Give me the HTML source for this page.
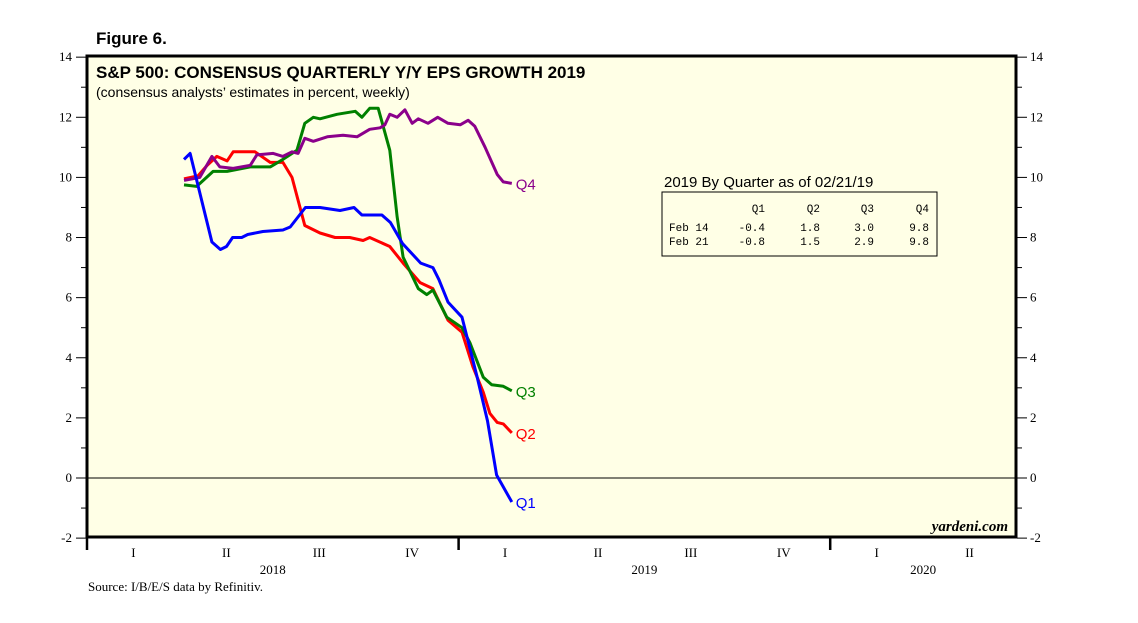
<!DOCTYPE html>
<html><head><meta charset="utf-8"><style>
body{margin:0;background:#fff;}
svg{display:block;}
.s{font-family:"Liberation Serif",serif;}
.a{font-family:"Liberation Sans",sans-serif;}
.m{font-family:"Liberation Mono",monospace;}
</style></head><body>
<svg id="c" width="1138" height="623" viewBox="0 0 1138 623">
<text x="96" y="44" class="a" font-size="17" font-weight="bold">Figure 6.</text>
<rect x="87" y="56" width="929" height="481" fill="#ffffe6" stroke="#000" stroke-width="3"/>
<g id="yaxes"></g>
<g id="xaxis"></g>
<line id="zero" stroke="#000" stroke-width="1"/>
<g id="series"></g>
<text x="96" y="78" class="a" font-size="17" font-weight="bold">S&amp;P 500: CONSENSUS QUARTERLY Y/Y EPS GROWTH 2019</text>
<text x="96" y="97" class="a" font-size="14">(consensus analysts’ estimates in percent, weekly)</text>
<text x="664" y="187" class="a" font-size="15">2019 By Quarter as of 02/21/19</text>
<rect x="662" y="192" width="275" height="64" fill="none" stroke="#000" stroke-width="1"/>
<g class="m" font-size="11" text-anchor="end">
<text x="765" y="212">Q1</text><text x="820" y="212">Q2</text><text x="874" y="212">Q3</text><text x="929" y="212">Q4</text>
<text x="669" y="231" text-anchor="start">Feb 14</text><text x="765" y="231">-0.4</text><text x="820" y="231">1.8</text><text x="874" y="231">3.0</text><text x="929" y="231">9.8</text>
<text x="669" y="245" text-anchor="start">Feb 21</text><text x="765" y="245">-0.8</text><text x="820" y="245">1.5</text><text x="874" y="245">2.9</text><text x="929" y="245">9.8</text>
</g>
<text x="1008" y="531" class="s" font-size="15" font-style="italic" font-weight="bold" text-anchor="end">yardeni.com</text>
<text x="88" y="591" class="s" font-size="13">Source: I/B/E/S data by Refinitiv.</text>
</svg>
<script>
const yTicks=[-2,0,2,4,6,8,10,12,14];
const quarterLabels=["I","II","III","IV","I","II","III","IV","I","II"];
const yearLabels=["2018","2019","2020"];
const yearCenters=[2,6,9];
const q1Weeks=[0,1,4.6,6,7,8,9.5,10.5,13,16.3,17.5,20,22.4,25.7,28,29.3,32.6,34,36,39,41,42,43.5,45.8,48.3,50,51.5,54];
const q1Vals=[10.6,10.8,7.85,7.6,7.7,8.0,8.0,8.1,8.2,8.25,8.35,9.0,9.0,8.9,9.0,8.75,8.75,8.5,7.8,7.15,7.0,6.6,5.85,5.35,3.35,1.9,0.1,-0.8];
const q2Weeks=[0,2.3,3.8,5.4,7.1,8.1,11.7,14.2,16.3,17.8,19.9,22.4,24.9,27.3,29.5,30.6,33.9,36.1,38.9,41,43.5,45.8,47.6,49.3,50.4,51.6,52.6,54];
const q2Vals=[9.95,10.05,10.4,10.7,10.55,10.85,10.85,10.5,10.5,10.0,8.4,8.15,8.0,8.0,7.9,8.0,7.7,7.15,6.5,6.3,5.25,4.85,3.7,2.85,2.15,1.85,1.8,1.5];
const q3Weeks=[0,2.1,4.8,7.1,10.9,14.2,16.3,18.6,19.9,21.3,22.4,25.2,28.2,29.3,30.6,32,33.9,35.1,36.1,38.6,40,41,43.3,45.8,47.1,49.3,50.7,52.6,54];
const q3Vals=[9.75,9.7,10.2,10.2,10.35,10.35,10.6,10.9,11.8,12.0,11.95,12.1,12.2,12.0,12.3,12.3,10.9,8.7,7.35,6.3,6.1,6.25,5.35,5.0,4.5,3.35,3.1,3.05,2.9];
const q4Weeks=[0,2.6,4.6,5.9,8.1,10.9,12,14.7,16.3,17.8,18.8,19.9,21.3,23.6,26.2,28.5,30.6,32.3,33.1,33.9,35.1,36.4,37.6,38.6,40.2,41.8,43.5,45.5,46.8,47.9,49.6,51.6,52.6,54];
const q4Vals=[9.9,10.0,10.7,10.35,10.3,10.4,10.75,10.8,10.7,10.85,10.8,11.3,11.2,11.35,11.4,11.35,11.6,11.65,11.75,12.1,12.0,12.25,11.8,11.95,11.8,12.0,11.8,11.75,11.9,11.7,11.0,10.1,9.85,9.8];

const NS='http://www.w3.org/2000/svg';
const yS=v=>478-v*30.06;
const xW=w=>184+w*6.07;
const xQ=q=>87+q*92.9;
function mk(tag,attrs,parent,txt){const e=document.createElementNS(NS,tag);for(const k in attrs)e.setAttribute(k,attrs[k]);if(txt!==undefined)e.textContent=txt;parent.appendChild(e);return e;}
const ya=document.getElementById('yaxes');
yTicks.forEach(v=>{
  const y=yS(v);
  const t=mk('line',{x1:76,x2:86,y1:y,y2:y,stroke:'#000'},ya);
  
  
  const t2=mk('line',{x1:1017,x2:1027,y1:y,y2:y,stroke:'#000'},ya);
  
  
  const l=mk('text',{x:72,y:y+4,'text-anchor':'end','font-size':13,class:'s'},ya,String(v));
  
  
  const r=mk('text',{x:1030,y:y+4,'font-size':13,class:'s'},ya,String(v));
  
  
  if(v<14){const ym=yS(v+1);
    const m1=mk('line',{x1:81,x2:86,y1:ym,y2:ym,stroke:'#000'},ya);
    
    
    const m2=mk('line',{x1:1017,x2:1022,y1:ym,y2:ym,stroke:'#000'},ya);
    
    }
});
const xa=document.getElementById('xaxis');
[0,4,8].forEach(q=>{const s=mk('line',{x1:xQ(q),x2:xQ(q),y1:537,y2:550,stroke:'#000','stroke-width':2.5},xa);
  
  });
quarterLabels.forEach((lb,i)=>{const t=mk('text',{x:xQ(i+0.5),y:557,'text-anchor':'middle','font-size':13,class:'s'},xa,lb);
  
  });
yearLabels.forEach((lb,i)=>{const t=mk('text',{x:xQ(yearCenters[i]),y:574,'text-anchor':'middle','font-size':13,class:'s'},xa,lb);
  
  });
const z=document.getElementById('zero');
z.setAttribute('x1',88);z.setAttribute('x2',1016);z.setAttribute('y1',yS(0));z.setAttribute('y2',yS(0));
const sg=document.getElementById('series');
[[q2Weeks,q2Vals,'#ff0000','Q2'],[q3Weeks,q3Vals,'#008000','Q3'],[q4Weeks,q4Vals,'#8b008b','Q4'],[q1Weeks,q1Vals,'#0000ff','Q1']].forEach(([w,v,c,n])=>{
  const d=w.map((wk,i)=>(i?'L':'M')+xW(wk).toFixed(1)+','+yS(v[i]).toFixed(1)).join('');
  const p=mk('path',{d:d,fill:'none',stroke:c,'stroke-width':3,'stroke-linejoin':'round'},sg);
  
  
  const last=v.length-1;
  const t=mk('text',{x:xW(w[last])+4,y:yS(v[last])+6,fill:c,'font-size':15,class:'a'},sg,n);
  
  
});
</script>
</body></html>
